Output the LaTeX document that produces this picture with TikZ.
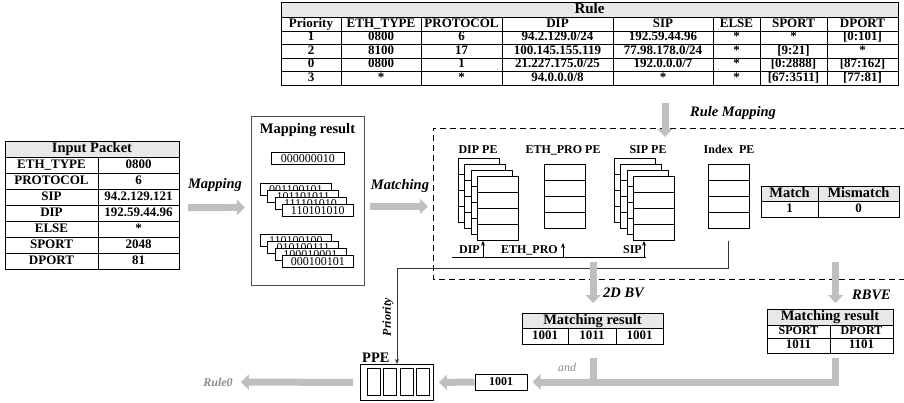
\documentclass[tikz,border=0pt]{standalone}
\usepackage{fontspec}
\setmainfont{Liberation Serif}
\usetikzlibrary{arrows.meta,calc}

\begin{document}
\begin{tikzpicture}[x=1pt,y=-1pt,
  fatarrow/.style={draw=gray!50,line width=7pt,line join=miter,-{Triangle[length=8pt,width=15pt]}},
  fatline/.style={draw=gray!50,line width=7pt},
  tline/.style={line width=0.6pt},
  frame/.style={draw,line width=1.2pt,inner sep=0pt,anchor=north west},
  hdfill/.style={fill=gray!18},
  celltxt/.style={inner sep=0pt,text height=8.2pt,text depth=2.3pt,font=\bfseries\fontsize{12}{12}\selectfont},
  ruletxt/.style={inner sep=0pt,text height=8.8pt,text depth=2.4pt,font=\bfseries\fontsize{13}{13}\selectfont},
  valtxt/.style={inner sep=0pt,text height=9pt,text depth=2.5pt,font=\bfseries\fontsize{13}{13}\selectfont},
  bigtxt/.style={inner sep=0pt,text height=10pt,text depth=3pt,font=\bfseries\fontsize{14.5}{15}\selectfont},
  flowlabel/.style={inner sep=0pt,font=\bfseries\itshape\fontsize{14.5}{15}\selectfont},
  greylabel/.style={inner sep=0pt,text=black!45,font=\itshape\fontsize{12}{12}\selectfont},
  bitbox/.style={draw,fill=white,line width=0.7pt,minimum width=71,minimum height=12,inner sep=0pt,anchor=north west,font=\fontsize{12}{12}\selectfont},
  pebox/.style={draw,fill=white,line width=0.8pt,minimum width=41,minimum height=64,inner sep=0pt,anchor=north west},
  uparrow/.style={line width=0.8pt,-{Stealth[length=5pt,width=4pt]}},
]
\useasboundingbox (0,0) rectangle (904,402);

% rule table
\fill[hdfill] (281,2) rectangle (898,17);
\foreach \yy in {17,31,44.5,58,71.5} \draw[tline] (281,\yy) -- (898,\yy);
\foreach \xx in {341,421,502,613,713,760,827} \draw[tline] (\xx,17) -- (\xx,85);
\node[frame,minimum width=617,minimum height=83] (rule) at (281,2) {};
\node[bigtxt,font=\bfseries\fontsize{15}{15}\selectfont] (rulehd) at (589.5,9.5) {Rule};
\def\rulecx{{311,381,461.5,557.5,663,736.5,793.5,862.5}}
\foreach \row [count=\r] in {{Priority,ETH\_TYPE,PROTOCOL,DIP,SIP,ELSE,SPORT,DPORT},
    {1,0800,6,94.2.129.0/24,192.59.44.96,*,*,[0:101]},
    {2,8100,17,100.145.155.119,77.98.178.0/24,*,[9:21],*},
    {0,0800,1,21.227.175.0/25,192.0.0.0/7,*,[0:2888],[87:162]},
    {3,*,*,94.0.0.0/8,*,*,[67:3511],[77:81]}}
  \foreach \v [count=\c] in \row {
    \pgfmathsetmacro\cx{\rulecx[\c-1]}
    \node[ruletxt] (rule\r\c) at (\cx,{24+(\r-1)*13.5}) {\v};
  }

% input packet
\fill[hdfill] (5,141) rectangle (179,157);
\foreach \yy in {157,173,...,253} \draw[tline] (5,\yy) -- (179,\yy);
\draw[tline] (98,157) -- (98,269);
\node[frame,minimum width=174,minimum height=128] (inpkt) at (5,141) {};
\node[bigtxt] (inhd) at (92,149) {Input Packet};
\foreach \k/\v [count=\r] in {ETH\_TYPE/0800,PROTOCOL/6,SIP/94.2.129.121,DIP/192.59.44.96,ELSE/*,SPORT/2048,DPORT/81} {
  \node[valtxt] (ink\r) at (51.5,{165+(\r-1)*16}) {\k};
  \node[valtxt] (inv\r) at (138.5,{165+(\r-1)*16}) {\v};
}

% mapping result
\node[draw=black!70,line width=0.9pt,minimum width=113,minimum height=169,anchor=north west] (mapres) at (251,116) {};
\node[bigtxt] (maptitle) at (307.5,130) {Mapping result};
\node[bitbox,minimum width=73] (bit0) at (271,152) {000000010};
\foreach \b [count=\i from 0] in {001100101,101101011,111101010,110101010}
  \node[bitbox] (bita\i) at ({260+7.3*\i},{183+7*\i}) {\b};
\foreach \b [count=\i from 0] in {110100100,010100111,100010001,000100101}
  \node[bitbox] (bitb\i) at ({260+7.3*\i},{234+7*\i}) {\b};

\draw[fatarrow] ($(inpkt.east)+(8,2)$) -- ($(mapres.west)+(-6,6.5)$);
\node[flowlabel] (maplbl) at (215,185) {Mapping};
\draw[fatarrow] ($(mapres.east)+(5,5.5)$) -- ($(mapres.east)+(63,5.5)$);
\node[flowlabel] (matchlbl) at (400,186) {Matching};

% rule mapping block
\draw[line width=0.8pt,dash pattern=on 6pt off 4pt] (906,128) -- (433,128) -- (433,279) -- (906,279);
\draw[fatarrow] ($(rule55.south)+(2,19)$) -- ($(rule55.south)+(2,53)$);
\node[flowlabel] (rmaplbl) at (733,113) {Rule Mapping};

\foreach \i in {0,...,3} {
  \node[pebox] (dip\i) at ({458+6.3*\i},{158+6*\i}) {};
  \foreach \k in {1,2,3} \draw[line width=0.8pt] ($(dip\i.north west)+(0,16*\k)$) -- ($(dip\i.north east)+(0,16*\k)$);
}
\node[pebox] (eth) at (544,164) {};
\foreach \k in {1,2,3} \draw[line width=0.8pt] ($(eth.north west)+(0,16*\k)$) -- ($(eth.north east)+(0,16*\k)$);
\foreach \i in {0,...,3} {
  \node[pebox] (sip\i) at ({614+6.3*\i},{158+6*\i}) {};
  \foreach \k in {1,2,3} \draw[line width=0.8pt] ($(sip\i.north west)+(0,16*\k)$) -- ($(sip\i.north east)+(0,16*\k)$);
}
\node[pebox] (idx) at (708,164) {};
\foreach \k in {1,2,3} \draw[line width=0.8pt] ($(idx.north west)+(0,16*\k)$) -- ($(idx.north east)+(0,16*\k)$);

\node[celltxt] (diplbl) at (478,151) {DIP PE};
\node[celltxt] (ethlbl) at (563,151) {ETH\_PRO PE};
\node[celltxt] (siplbl) at (648,151) {SIP PE};
\node[celltxt] (idxlbl) at (729,151) {Index\ \ PE};

\coordinate (busL) at (452,257);
\coordinate (busR) at (646,257);
\coordinate (busdip) at (483,257);
\coordinate (buseth) at (563,257);
\coordinate (bussip) at (644,257);
\draw[line width=0.8pt] (busL) -- (busR);
\draw[uparrow] (busdip) -- (busdip |- dip3.south);
\draw[uparrow] (buseth) -- ($(buseth)+(0,-14)$);
\draw[uparrow] (bussip) -- (bussip |- sip3.south);
\node[celltxt,anchor=base east] (diptxt) at ($(busdip)+(-3,-4)$) {DIP};
\node[celltxt,anchor=base east] (ethtxt) at ($(buseth)+(-5,-4)$) {ETH\_PRO};
\node[celltxt,anchor=base east] (siptxt) at ($(bussip)+(-2,-4)$) {SIP};

% match table
\fill[hdfill] (761,186) rectangle (899,201);
\draw[tline] (761,201) -- (899,201);
\draw[tline] (818,186) -- (818,217);
\node[frame,minimum width=138,minimum height=31] (matchtab) at (761,186) {};
\node[bigtxt] (mhd1) at (789.5,193.5) {Match};
\node[bigtxt] (mhd2) at (858.5,193.5) {Mismatch};
\node[valtxt] (mval1) at (789.5,209) {1};
\node[valtxt] (mval2) at (858.5,209) {0};

% priority path
\node[draw,line width=0.9pt,minimum width=73,minimum height=36,anchor=north west] (ppe) at (360,364) {};
\foreach \i in {0,...,3}
  \node[draw,line width=0.8pt,minimum width=13,minimum height=27,inner sep=0pt] (slot\i) at ({374+16.3*\i},382) {};
\node[bigtxt,anchor=base west] (ppelbl) at (362,362) {PPE};
\coordinate (idxout) at ($(idx.south)+(-1,12)$);
\coordinate (pricorner) at (397,268);
\draw[line width=0.8pt,draw=black!80,-{Stealth[length=5pt,width=4pt]}] (idxout) |- (pricorner) -- (pricorner |- ppe.north);
\node[inner sep=0pt,rotate=90,font=\bfseries\itshape\fontsize{12}{12}\selectfont] (prilbl) at (388,317) {Priority};

% 2D BV result
\fill[hdfill] (522,313) rectangle (663,328);
\draw[tline] (522,328) -- (663,328);
\draw[tline] (568,328) -- (568,344);
\draw[tline] (616,328) -- (616,344);
\node[frame,minimum width=141,minimum height=31] (bvres) at (522,313) {};
\node[bigtxt] (bvhd) at (592.5,320.5) {Matching result};
\node[valtxt] (bv1) at (545,336) {1001};
\node[valtxt] (bv2) at (592,336) {1011};
\node[valtxt] (bv3) at (639.5,336) {1001};
\draw[fatarrow] ([yshift=51pt]bvres.north) -- ([yshift=10pt]bvres.north);
\node[flowlabel,anchor=west] (bvlbl) at (603,293) {2D BV};

% RBVE result
\fill[hdfill] (767,309) rectangle (893,325);
\draw[tline] (767,325) -- (893,325);
\draw[tline] (767,338) -- (893,338);
\draw[tline] (830,325) -- (830,353);
\node[frame,minimum width=126,minimum height=44] (rbres) at (767,309) {};
\node[bigtxt] (rbhd) at (830,317) {Matching result};
\node[celltxt] (rbk1) at (798.5,331.5) {SPORT};
\node[celltxt] (rbk2) at (861.5,331.5) {DPORT};
\node[valtxt] (rbv1) at (798.5,345.5) {1011};
\node[valtxt] (rbv2) at (861.5,345.5) {1101};
\draw[fatarrow] ([xshift=5pt,yshift=47pt]rbres.north) -- ([xshift=5pt,yshift=6pt]rbres.north);
\node[flowlabel,anchor=west] (rblbl) at (852,295) {RBVE};

% and
\node[draw,line width=1pt,minimum width=52,minimum height=16,inner sep=0pt,font=\bfseries\fontsize{12}{12}\selectfont] (res1001) at (501,382) {1001};
\draw[fatline] ($(bvres.south)+(0,13)$) -- ($(bvres.south |- res1001.east)+(0,3.5)$);
\draw[fatarrow] ($(rbres.south)+(5,4)$) |- ($(res1001.east)+(5,0)$);
\node[greylabel] (andlbl) at (567,367) {and};
\draw[fatarrow] (res1001.west) -- ($(ppe.east)+(5,0)$);
\node[greylabel,font=\bfseries\itshape\fontsize{12}{12}\selectfont] (rule0) at (218,382) {Rule0};
\draw[fatarrow] ($(ppe.west)+(-7,0)$) -- ($(rule0.east)+(8,0)$);
\end{tikzpicture}
\end{document}
